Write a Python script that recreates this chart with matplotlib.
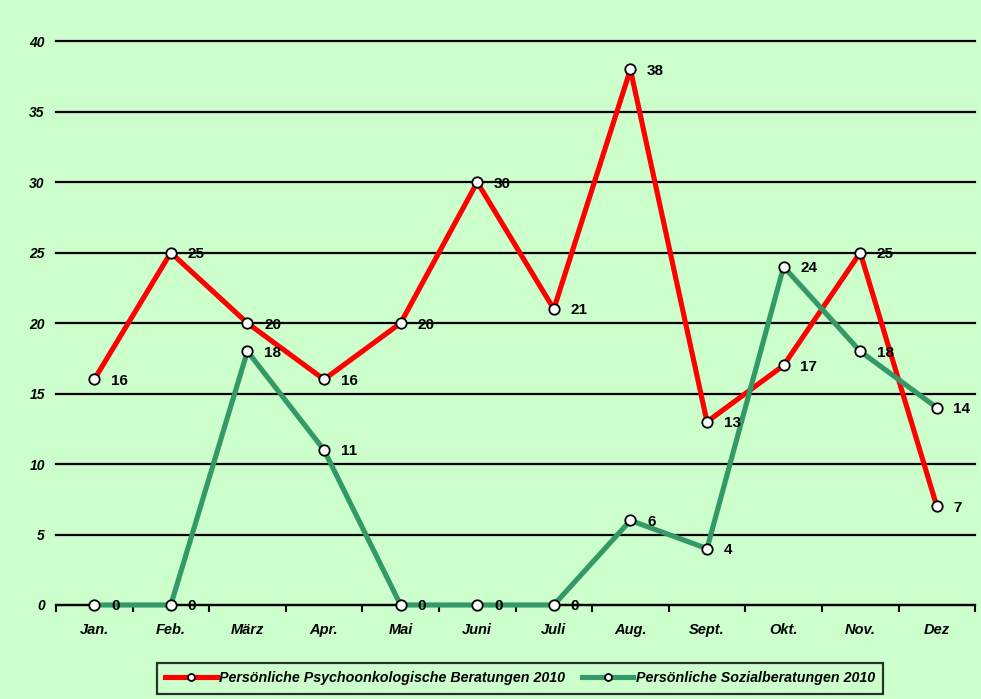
import numpy as np
import matplotlib.pyplot as plt

MONTHS = ["Jan.", "Feb.", "März", "Apr.", "Mai", "Juni", "Juli", "Aug.",
          "Sept.", "Okt.", "Nov.", "Dez"]
PSYCHO = [16, 25, 20, 16, 20, 30, 21, 38, 13, 17, 25, 7]
SOZIAL = [0, 0, 18, 11, 0, 0, 0, 6, 4, 24, 18, 14]
LABEL_PSYCHO = "Persönliche Psychoonkologische Beratungen 2010"
LABEL_SOZIAL = "Persönliche Sozialberatungen 2010"

BG = "#CCFFCC"
RED = "#FF0000"
GREEN = "#339966"

plt.rcParams["font.family"] = ["Liberation Sans", "DejaVu Sans"]

fig = plt.figure(figsize=(9.81, 6.99), dpi=100, facecolor=BG)
ax = fig.add_axes([0.057, 0.1345, 0.937, 0.8065], facecolor=BG)

x = np.arange(len(MONTHS))
for vals, col, lab in ((PSYCHO, RED, LABEL_PSYCHO), (SOZIAL, GREEN, LABEL_SOZIAL)):
    ax.plot(x, vals, color=col, lw=3.7, marker="o", ms=7.5, mfc="white",
            mec="black", mew=1.3, label=lab, zorder=3, clip_on=False)
    for xi, v in zip(x, vals):
        ax.annotate(str(v), (xi, v), xytext=(12, -1), textcoords="offset points",
                    ha="left", va="center", fontsize=11, fontweight="bold",
                    zorder=4, annotation_clip=False)

ax.set_xlim(-0.5, len(MONTHS) - 0.5)
ax.set_ylim(0, 40)
ax.set_yticks(range(0, 41, 5))
ax.set_yticklabels([str(v) for v in range(0, 41, 5)], fontsize=10,
                   fontweight="bold", fontstyle="italic")
ax.tick_params(axis="y", length=0, pad=8)
ax.set_xticks(x)
ax.set_xticklabels(MONTHS, fontsize=10.5, fontweight="bold", fontstyle="italic")
ax.tick_params(axis="x", which="major", length=0, pad=13)
ax.set_xticks(np.arange(-0.5, len(MONTHS)), minor=True)
ax.tick_params(axis="x", which="minor", length=5, width=1.5, direction="out")

ax.grid(axis="y", color="black", lw=1.6, zorder=1)
for gl in ax.get_ygridlines():
    gl.set_clip_on(False)
for s in ("top", "right", "left"):
    ax.spines[s].set_visible(False)
ax.spines["bottom"].set_linewidth(1.6)

leg = fig.legend(loc="lower center", bbox_to_anchor=(0.530, 0.003), ncol=2,
                 frameon=True, fancybox=False, edgecolor="black",
                 facecolor=BG, handlelength=3.6, handletextpad=0.15,
                 columnspacing=1.2, borderpad=0.6, borderaxespad=0.2,
                 prop={"size": 10.3, "weight": "bold", "style": "italic"})
leg.get_frame().set_linewidth(1.6)
for h in leg.legend_handles:
    h.set_markersize(5)

fig.savefig("out.png", dpi=100, facecolor=BG)
